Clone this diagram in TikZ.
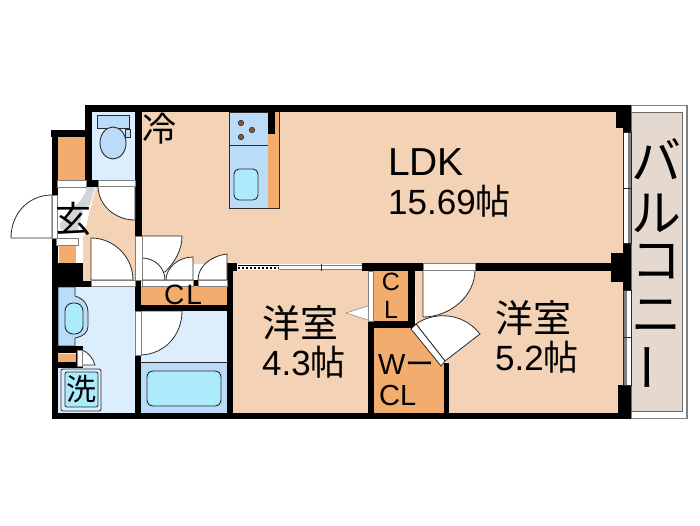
\documentclass[tikz,border=0pt]{standalone}
\usepackage{fontspec}
\setmainfont{Liberation Sans}
\newfontfamily\jp{Noto Sans CJK JP}
\definecolor{peach}{HTML}{F3D2B5}
\definecolor{closet}{HTML}{F2AD6E}
\definecolor{pale}{HTML}{DCEEFD}
\definecolor{wet}{HTML}{BADCF8}
\definecolor{aqua}{HTML}{ABEBFC}
\definecolor{balc}{HTML}{E4D8CF}
\definecolor{dk}{HTML}{2A2A2A}
\definecolor{band}{HTML}{D4D4D4}
\tikzset{
  wall/.style={fill=black,draw=none},
  room/.style={draw=none},
  doorleaf/.style={fill=white,draw=dk,line width=0.8pt},
  frame/.style={fill=white,draw=gray,line width=0.6pt},
  fixture/.style={draw=dk,line width=0.9pt},
  label/.style={inner sep=0pt,text=black,align=center},
}
\newcommand{\fs}[1]{\fontsize{#1}{#1}\selectfont}
\begin{document}
\begin{tikzpicture}[x=1pt,y=-1pt]
\useasboundingbox (0,0) rectangle (700,525);
\fill[white] (0,0) rectangle (700,525);
% floors
\fill[peach] (142,112) rectangle (623,264);
\fill[peach] (83,186) -- (135,186) -- (135,281) -- (83,281) -- (83,238) -- (96,187) -- cycle;
\fill[peach] (233,270) rectangle (368,413);
\fill[peach] (415,270) -- (623,270) -- (623,413) -- (448,413) -- (448,363) -- (445,361) -- (416,324) -- cycle;
\fill[closet] (374,271) rectangle (408,322);
\fill[closet] (373,328) -- (411,328) -- (444,364) -- (444,413) -- (373,413) -- cycle;
\fill[closet] (58,137) rectangle (85,180);
\fill[closet] (59,245) rectangle (76,264);
\fill[closet] (141,286) rectangle (227,305);
\fill[pale] (92,112) rectangle (135,180);
\fill[pale] (58,286) rectangle (135,413);
\fill[pale] (141,311) rectangle (227,362);
\fill[wet] (141,362) rectangle (227,413);
\draw[dk,line width=0.7pt] (141,362) -- (227,362);
% balcony
\draw[fill=white,draw=gray,line width=1.2pt] (631,105.5) rectangle (687,418.5);
\draw[fill=balc,draw=dk!70,line width=0.6pt] (631,112) rectangle (682,411);
% toilet
\draw[fixture,fill=wet] (97,115) rectangle (129,128);
\draw[fixture,fill=wet,line width=0.7pt] (125,129) rectangle (130,137);
\draw[fixture,fill=wet] (113,143) ellipse [x radius=13,y radius=16];
% kitchen
\draw[fill=wet,draw=dk,line width=0.8pt] (229,112) rectangle (268,208);
\fill[closet] (268,112) rectangle (279,208);
\draw[dk,line width=0.8pt] (268,208) -- (279,208) -- (279,112);
\draw[dk,line width=1pt] (229,145) -- (268,145);
\foreach \bx/\by in {241/123,252/130,241/137}
  \draw[fill=brown!70!black,draw=dk,line width=0.5pt] (\bx,\by) circle (2.8);
\draw[fixture,fill=aqua,rounded corners=5pt] (234,169) rectangle (258,200);
\fill[wall] (268,112) rectangle (275,134);
% wash basin
\draw[fill=wet,draw=dk,line width=0.8pt] (58,287) -- (75,287) -- (75,296) .. controls (84,299) and (88,304) .. (88,313) -- (88,325) .. controls (88,333) and (84,336) .. (75,338) -- (75,346) -- (58,346) -- cycle;
\draw[fixture,fill=aqua,rounded corners=8pt] (65,303) rectangle (83,334);
% washer
\draw[draw=dk,fill=pale,line width=0.8pt,rounded corners=2pt] (61,369) rectangle (101,411);
\draw[draw=dk,fill=aqua,line width=0.8pt,rounded corners=2pt] (65,372) rectangle (98,407);
% bath
\draw[fixture,fill=aqua,rounded corners=6pt] (147,371) rectangle (221,406);
% walls
\fill[wall] (85,105) rectangle (631,112);
\fill[wall] (85,105) rectangle (92,137);
\fill[wall] (85,130) rectangle (92,187);
\fill[wall] (51,130) rectangle (92,137);
\fill[wall] (51.5,130) rectangle (58,196);
\fill[wall] (51.5,238) rectangle (58,419);
\fill[wall] (51.5,413) rectangle (631,419);
\fill[wall] (135,105) rectangle (142,236);
\fill[wall] (85,180) rectangle (98,187);
\fill[wall] (58,263) rectangle (83,286);
\fill[wall] (58,281) rectangle (91,287);
\fill[wall] (135,280) rectangle (141,311);
\fill[wall] (135,355) rectangle (141,413);
\fill[wall] (135,305) rectangle (233,311);
\fill[wall] (227,263) rectangle (233,413);
\fill[wall] (227,263) rectangle (237,271);
\fill[wall] (362,263) rectangle (423,271);
\fill[wall] (475,263) rectangle (623,271);
\fill[wall] (368,321) rectangle (374,413);
\fill[wall] (368,321) rectangle (415,328);
\fill[wall] (408,271) rectangle (415,328);
\fill[wall] (444,363) rectangle (449,413);
\fill[wall] (616,105) rectangle (631,128);
\fill[wall] (623,128) rectangle (631,132);
\fill[wall] (611,253) rectangle (631,282);
\fill[wall] (623,243) rectangle (631,290);
\fill[wall] (618,385) rectangle (631,419);
\fill[wall] (193,280) rectangle (198,286);
\fill[wall] (58,346) rectangle (83,353);
\fill[wall] (58,362) rectangle (83,368);
% orange under laundry stub
\fill[closet] (58,354) rectangle (76,362);
\fill[wall] (76,353) rectangle (77,362);
% windows
\foreach \ya/\yb in {132/188,188/243}{
  \fill[white] (624,\ya) rectangle (631,\yb);
  \fill[gray] (628,\ya) rectangle (631,\yb);
  \draw[dk,line width=0.5pt] (623.5,\ya) rectangle (631,\yb);
}
\foreach \ya/\yb in {290/337,337/385}{
  \fill[white] (624,\ya) rectangle (631,\yb);
  \fill[gray] (624,\ya) rectangle (626.5,\yb);
  \draw[dk,line width=0.5pt] (623.5,\ya) rectangle (631,\yb);
}
% entry
\fill[white] (58,187) rectangle (92,205);
\fill[white] (58,205) -- (85,205) -- (83,238) -- (58,238) -- cycle;
\fill[band] (87,187) -- (95,187) -- (90,205) -- (83,208) -- (72,208) .. controls (80,203) and (85,195) .. cycle;
\fill[band] (75,208) -- (83,211) -- (77,233) -- (60,229) -- (60,223) -- cycle;
\draw[frame] (57,180) rectangle (86,187);
\draw[frame] (56,238) rectangle (78,245);
\draw[doorleaf] (52,238) -- (11,238) .. controls (11,214) and (28,195) .. (52,195) -- cycle;
\draw[frame] (52,195) rectangle (57,238);
% toilet door
\draw[doorleaf] (135,186) -- (98,186) .. controls (98,205) and (115,220) .. (135,220) -- cycle;
\draw[frame] (98,180) rectangle (135,186);
% hall door
\draw[doorleaf] (91,280) -- (91,238) .. controls (114,238) and (133,257) .. (133,280) -- cycle;
\draw[frame] (91,280) rectangle (135,286);
% closet & LDK doors
\draw[doorleaf] (142,236) -- (182,236) .. controls (182,250) and (175,262) .. (165,272) -- (142,272) -- cycle;
\draw[doorleaf] (142,280) -- (142,258) .. controls (155,258) and (165,268) .. (165,280) -- cycle;
\draw[doorleaf] (193,280) -- (193,257) .. controls (178,257) and (166,268) .. (166,280) -- cycle;
\draw[doorleaf] (227,280) -- (227,254) .. controls (211,256) and (198,266) .. (198,280) -- cycle;
\draw[frame] (135.5,236) rectangle (142,280);
\draw[frame] (142,280) rectangle (193,286);
\draw[frame] (198,280) rectangle (227,286);
% bath door
\draw[doorleaf] (141,311) -- (182,311) .. controls (182,335) and (165,354) .. (141,355) -- cycle;
\draw[frame] (135.5,311) rectangle (141,355);
% laundry closet door
\draw[doorleaf] (82,365) -- (82,350) .. controls (88,352) and (93,358) .. (95,365) -- cycle;
\draw[frame] (77,350) rectangle (82,366);
% sliding door of west room
\fill[white] (237,265) rectangle (362,270);
\draw[black,line width=2.5pt,dash pattern=on 2pt off 2pt] (238,268) -- (279,268);
\draw[black,line width=0.8pt] (238,265.5) -- (279,265.5);
\draw[gray,line width=0.8pt] (279,265.5) -- (321,265.5) (279,269.5) -- (362,269.5) (321,265) -- (362,265);
\draw[dk,line width=0.8pt] (321,264) -- (321,271);
% closet frame, triangle
\draw[frame] (368,271) rectangle (373,321);
\fill[white] (346,313) -- (368,306) -- (368,320) -- cycle;
\draw[gray,line width=0.5pt] (368,306) -- (346,313) -- (368,320);
% right room doors
\draw[doorleaf] (423,270) -- (475,270) .. controls (475,296) and (450,317) .. (423,317) -- cycle;
\draw[frame] (423,263) rectangle (475,270);
\draw[doorleaf] (416,324) .. controls (431,313) and (461,310) .. (480,334) -- (445,361) -- cycle;
\draw[fill=white,draw=dk,line width=0.8pt] (411,329) -- (416,324) -- (445,361) -- (441,366) -- cycle;
% text
\node[label] (fridge) at (159,129) {\jp\fs{34}冷};
\node[label] (ldk) at (426,162) {\fs{39}LDK};
\node[label,anchor=base west] (ldkarea) at (388,214) {\fs{35}15.69{\jp 帖}};
\node[label,anchor=base west] (westa) at (262,337) {\jp\fs{38}洋室};
\node[label,anchor=base west] (westb) at (262,375) {\fs{35}4.3{\jp 帖}};
\node[label,anchor=base west] (easta) at (495,332) {\jp\fs{38}洋室};
\node[label,anchor=base west] (eastb) at (495,370) {\fs{35}5.2{\jp 帖}};
\node[label,anchor=base] (cl) at (183,304) {\fs{28}C\kern2ptL};
\node[label,anchor=base] (cla) at (391,290) {\fs{25}C};
\node[label,anchor=base] (clb) at (391,318) {\fs{25}L};
\node[label,anchor=base west] (wcla) at (378,374) {\fs{29}W{\jp\fs{29}ー}};
\node[label,anchor=base west] (wclb) at (379,405) {\fs{29}CL};
\node[label] (entry) at (73,219) {\jp\fs{36}玄};
\node[label] (wash) at (81,389) {\jp\fs{30}洗};
\node[label,font={\jp\fontsize{50}{52}\selectfont}] (balcony) at (656,266) {バ\\[0pt]ル\\[-5pt]コ\\[2pt]ニ\\[8pt]\rotatebox{90}{ー}};
\end{tikzpicture}
\end{document}
